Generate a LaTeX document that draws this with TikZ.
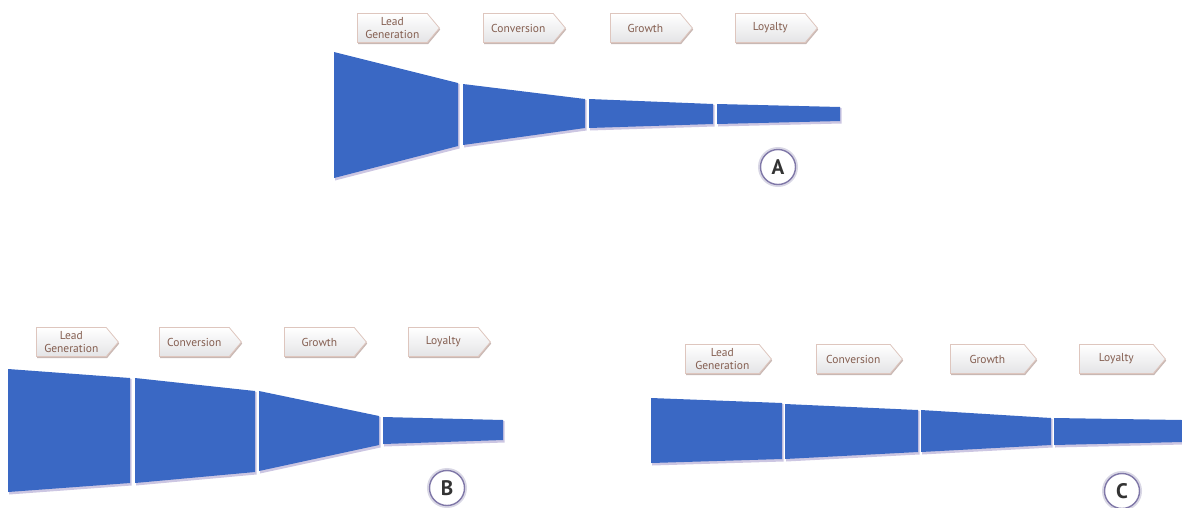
\documentclass[tikz,border=0pt]{standalone}
\usepackage{fontspec}
\setmainfont{PT Sans}
\usetikzlibrary{shapes.symbols}

\definecolor{funnelblue}{RGB}{58,104,196}
\definecolor{rimlilac}{RGB}{204,198,226}
\definecolor{tagline}{RGB}{222,198,190}
\definecolor{tagshade}{RGB}{200,184,180}
\definecolor{tagtext}{RGB}{132,94,80}
\definecolor{taggray}{RGB}{228,228,230}
\definecolor{badgeline}{RGB}{128,120,168}

% one slice of a funnel: x1, top1, bottom1, x2, top2, bottom2
\newcommand{\funnelseg}[6]{%
  \fill[rim] (#1+1,#2+1) -- (#4+1.5,#5+1) -- (#4+1.5,#6+2.5) -- (#1+1,#3+2.5) -- cycle;
  \fill[seg] (#1,#2) -- (#4,#5) -- (#4,#6) -- (#1,#3) -- cycle;}

\tikzset{
  tag/.style={signal, signal to=east, signal pointer angle=100, draw=tagline,
    line width=0.8pt, top color=white, bottom color=taggray, text=tagtext,
    minimum height=29pt, minimum width=82pt, inner sep=1pt, anchor=west,
    font=\fontsize{11.5}{13}\selectfont, align=center,
    preaction={fill=tagshade, transform canvas={shift={(0.8pt,-1.6pt)}}}},
  seg/.style={fill=funnelblue},
  rim/.style={fill=rimlilac},
  badge/.style={circle, draw=badgeline, line width=1.4pt, fill=white,
    minimum size=35pt, inner sep=0pt, text=black!80,
    font=\fontsize{21}{21}\selectfont\bfseries,
    preaction={draw=badgeline!30, line width=5pt}}
}

\begin{document}
\begin{tikzpicture}[x=1pt,y=-1pt]
  \useasboundingbox (0,0) rectangle (1182,507);

  % funnel A
  \foreach \xa/\ta/\ba/\xb/\tb/\bb in {334/52/178/458/83/146, 463/84/145/585/99/128,
      589/99/128/713/104/124, 717/104/124/840/107/121}
    \funnelseg{\xa}{\ta}{\ba}{\xb}{\tb}{\bb};
  \node[tag] (leadA) at (357,28) {Lead\\Generation};
  \node[tag] (convA) at (483,28) {Conversion};
  \node[tag] (growA) at (610,28) {Growth};
  \node[tag] (loyA) at (735,28) {Loyalty};
  \node[badge] (markA) at (778,167) {A};

  % funnel B
  \foreach \xa/\ta/\ba/\xb/\tb/\bb in {8/369/492/130/378/483, 135/378/483/255/391/472,
      259/391/471/379/416/445, 383/417/444/503/420/440}
    \funnelseg{\xa}{\ta}{\ba}{\xb}{\tb}{\bb};
  \node[tag] (leadB) at (36,342) {Lead\\Generation};
  \node[tag] (convB) at (159,342) {Conversion};
  \node[tag] (growB) at (284,342) {Growth};
  \node[tag] (loyB) at (408,342) {Loyalty};
  \node[badge] (markB) at (447,488) {B};

  % funnel C
  \foreach \xa/\ta/\ba/\xb/\tb/\bb in {651/398/463/782/403/459, 785/404/459/918/410/452,
      921/410/452/1051/418/445, 1054/418/445/1182/420/442}
    \funnelseg{\xa}{\ta}{\ba}{\xb}{\tb}{\bb};
  \node[tag, minimum width=86pt] (leadC) at (685,359) {Lead\\Generation};
  \node[tag, minimum width=86pt] (convC) at (816,359) {Conversion};
  \node[tag, minimum width=86pt] (growC) at (950,359) {Growth};
  \node[tag, minimum width=86pt] (loyC) at (1079,359) {Loyalty};
  \node[badge] (markC) at (1122,491) {C};
\end{tikzpicture}
\end{document}
